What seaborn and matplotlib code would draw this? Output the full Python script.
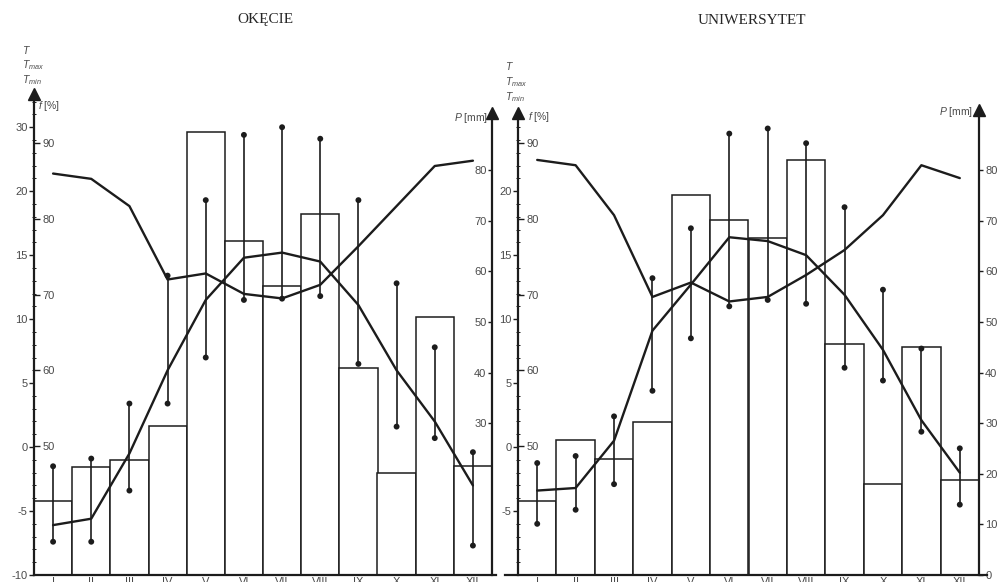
"""
Climate diagrams for two Warsaw stations: Okecie and Uniwersytet.
Bars = monthly precipitation P, curves = mean temperature T and relative humidity f,
whiskers = mean Tmax / Tmin.
"""
import numpy as np
import matplotlib.pyplot as plt
import matplotlib as mpl
import seaborn as sns
from matplotlib.ticker import FixedLocator

sns.set_style("white")
mpl.rcParams['font.family'] = ['Liberation Sans', 'DejaVu Sans']
mpl.rcParams['mathtext.fontset'] = 'custom'
mpl.rcParams['mathtext.it'] = 'Liberation Sans:italic'
mpl.rcParams['mathtext.rm'] = 'Liberation Sans'

# s0, values
months = ["I", "II", "III", "IV", "V", "VI", "VII", "VIII", "IX", "X", "XI", "XII"]

precip_okecie = [14.7, 21.4, 22.8, 29.4, 87.6, 65.9, 57.0, 71.4, 40.8, 20.2, 50.9, 21.5]
temp_okecie = [-6.1, -5.6, -0.5, 6.0, 11.5, 14.8, 15.2, 14.5, 11.1, 6.0, 2.0, -3.0]
tmax_okecie = [-1.5, -0.9, 3.4, 13.4, 19.3, 24.4, 25.0, 24.1, 19.3, 12.8, 7.8, -0.4]
tmin_okecie = [-7.4, -7.4, -3.4, 3.4, 7.0, 11.5, 11.6, 11.8, 6.5, 1.6, 0.7, -7.7]
hum_okecie = [86.0, 85.3, 81.7, 72.0, 72.8, 70.1, 69.5, 71.3, 76.4, 81.7, 87.0, 87.7]

precip_uniw = [14.7, 26.6, 22.9, 30.2, 75.0, 70.2, 66.6, 82.0, 45.7, 17.9, 45.1, 18.7]
temp_uniw = [-3.4, -3.2, 0.5, 9.1, 12.7, 16.4, 16.1, 15.0, 11.9, 7.6, 2.1, -2.0]
tmax_uniw = [-1.25, -0.7, 2.4, 13.2, 17.1, 24.5, 24.9, 23.75, 18.75, 12.3, 7.7, -0.1]
tmin_uniw = [-6.0, -4.9, -2.9, 4.4, 8.5, 11.0, 11.5, 11.2, 6.2, 5.2, 1.2, -4.5]
hum_uniw = [87.8, 87.1, 80.5, 69.7, 71.6, 69.1, 69.7, 72.6, 75.9, 80.5, 87.1, 85.4]

# axis ticks (the original prints "30" where 25 should be)
t_ticks_okecie = [-10, -5, 0, 5, 10, 15, 20, 25]
t_labels_okecie = ["-10", "-5", "0", "5", "10", "15", "20", "30"]
t_ticks_uniw = [-5, 0, 5, 10, 15, 20]
t_labels_uniw = ["-5", "0", "5", "10", "15", "20"]
f_ticks = [50, 60, 70, 80, 90]
p_ticks_okecie = [10, 20, 30, 40, 50, 60, 70, 80]
p_ticks_uniw = [0, 10, 20, 30, 40, 50, 60, 70, 80]

W, H = 1003, 582
LINE = "#1c1c1c"
TEXT = "#4a4a4a"
T_LIM = (-10, 28.3)
F_LIM = (32.96, 97.7)
P_LIM = (0, 96.8)


def px(x, y):
    return x / W, 1 - y / H


fig = plt.figure(figsize=(W / 100, H / 100), dpi=100)


def draw_panel(x0, x1, precip, temp, tmax, tmin, hum, t_ticks, t_labels, t_top,
               p_ticks, p_top, p_inside, x_span):
    rect = [x0 / W, 7 / H, (x1 - x0) / W, 490 / H]
    xpos = np.arange(len(months))

    # bars live on the base axes so both curves are drawn above them
    ax_p = fig.add_axes(rect)
    ax_f = ax_p.twinx()
    ax_t = ax_p.twinx()

    sns.barplot(x=months, y=precip, ax=ax_p, color="white", saturation=1, width=1.0,
                edgecolor=LINE, linewidth=1.1)

    # f1, humidity curve (shares the left spine, labels on the inside)
    sns.lineplot(x=xpos, y=hum, ax=ax_f, color=LINE, linewidth=1.7)

    # f2, mean temperature curve plus Tmax/Tmin whiskers
    ax_t.vlines(xpos, tmin, tmax, color=LINE, linewidth=1.2)
    sns.scatterplot(x=np.concatenate([xpos, xpos]), y=np.concatenate([tmax, tmin]),
                    ax=ax_t, color=LINE, s=18, edgecolor="none")
    sns.lineplot(x=xpos, y=temp, ax=ax_t, color=LINE, linewidth=1.7)

    for ax in (ax_p, ax_f, ax_t):
        ax.set_xlim(-0.5, 11.5)
        ax.set_xlabel("")
        ax.set_ylabel("")
        for s in ax.spines.values():
            s.set_visible(False)
    ax_p.set_ylim(P_LIM)
    ax_f.set_ylim(F_LIM)
    ax_t.set_ylim(T_LIM)

    # precipitation axis on the right
    ax_p.yaxis.tick_right()
    ax_p.spines['right'].set_visible(True)
    ax_p.spines['right'].set_bounds(0, p_top)
    ax_p.spines['right'].set_linewidth(1.6)
    ax_p.spines['right'].set_color(LINE)
    ax_p.spines['bottom'].set_visible(True)
    ax_p.spines['bottom'].set_bounds(*x_span)
    ax_p.spines['bottom'].set_linewidth(1.6)
    ax_p.spines['bottom'].set_color(LINE)
    ax_p.set_yticks(p_ticks, [str(v) for v in p_ticks])
    if p_inside:
        ax_p.tick_params(axis='y', direction='in', length=3, width=1, pad=-4,
                         labelsize=8, labelcolor=TEXT, color=LINE)
        plt.setp(ax_p.get_yticklabels(), ha='right')
    else:
        ax_p.tick_params(axis='y', direction='out', length=3, width=1, pad=1.5,
                         labelsize=8, labelcolor=TEXT, color=LINE)
    ax_p.tick_params(axis='x', length=0, pad=1.5, labelsize=8, labelcolor=TEXT)
    ax_p.plot(1, p_top, marker='^', ms=8, color=LINE, transform=ax_p.get_yaxis_transform(),
              clip_on=False)

    # temperature axis on the left
    ax_t.yaxis.tick_left()
    ax_t.spines['left'].set_visible(True)
    ax_t.spines['left'].set_bounds(-10, t_top)
    ax_t.spines['left'].set_linewidth(1.6)
    ax_t.spines['left'].set_color(LINE)
    ax_t.set_yticks(t_ticks, t_labels)
    ax_t.yaxis.set_minor_locator(FixedLocator(np.arange(-10, t_top)))
    ax_t.tick_params(axis='y', which='major', direction='out', length=3.5, width=1, pad=1,
                     labelsize=8, labelcolor=TEXT, color=LINE)
    ax_t.tick_params(axis='y', which='minor', direction='inout', length=2.5, width=0.7,
                     color=LINE, left=True)
    ax_t.plot(0, t_top, marker='^', ms=8, color=LINE, transform=ax_t.get_yaxis_transform(),
              clip_on=False)

    # humidity labels to the right of the same spine
    ax_f.yaxis.tick_left()
    ax_f.set_yticks(f_ticks, [str(v) for v in f_ticks])
    ax_f.tick_params(axis='y', direction='in', length=4, width=1, pad=-6,
                     labelsize=8, labelcolor=TEXT, color=LINE)
    plt.setp(ax_f.get_yticklabels(), ha='left')
    return ax_p


draw_panel(34, 492, precip_okecie, temp_okecie, tmax_okecie, tmin_okecie, hum_okecie,
           t_ticks_okecie, t_labels_okecie, 27.6, p_ticks_okecie, 91.2, True, (-0.5, 11.6))
draw_panel(518, 979, precip_uniw, temp_uniw, tmax_uniw, tmin_uniw, hum_uniw,
           t_ticks_uniw, t_labels_uniw, 26.1, p_ticks_uniw, 91.8, False, (-0.85, 11.7))

# titles and axis captions
fig.text(*px(265, 20), "OKĘCIE", family="Liberation Serif", fontsize=11, ha="center", va="center")
fig.text(*px(752, 20), "UNIWERSYTET", family="Liberation Serif", fontsize=11, ha="center", va="center")

for x_t, ys, x_f, y_f, x_p, y_p in [(22, (50, 65, 80), 38, 106, 488, 118),
                                    (505, (66, 82, 97), 528, 117, 973, 112)]:
    fig.text(*px(x_t, ys[0]), "$T$", fontsize=7.5, color=TEXT, va="center")
    fig.text(*px(x_t, ys[1]), "$T_{max}$", fontsize=7.5, color=TEXT, va="center")
    fig.text(*px(x_t, ys[2]), "$T_{min}$", fontsize=7.5, color=TEXT, va="center")
    fig.text(*px(x_f, y_f), "$f$ [%]", fontsize=7.5, color=TEXT, va="center")
    fig.text(*px(x_p, y_p), "$P$ [mm]", fontsize=7.5, color=TEXT, va="center", ha="right")

plt.savefig("out.png", dpi=100)
plt.close("all")
